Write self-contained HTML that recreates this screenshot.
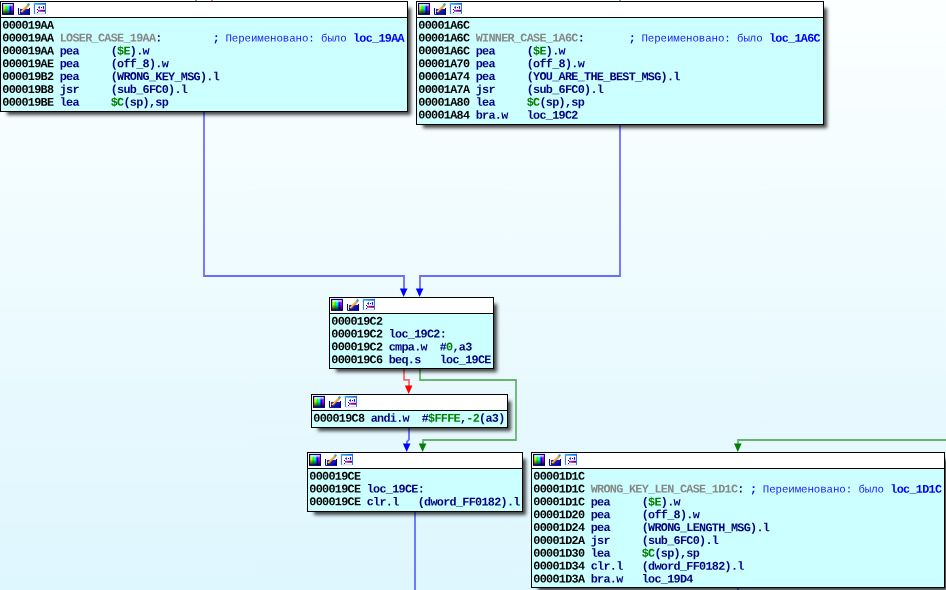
<!DOCTYPE html>
<html lang="ru"><head><meta charset="utf-8"><title>IDA graph view</title>
<style>
html,body{margin:0;padding:0}
body{width:946px;height:590px;overflow:hidden;position:relative;background:linear-gradient(#fcffff 0px,#def6fe 590px);font-family:"Liberation Mono",monospace;font-weight:bold;font-size:11.8px;letter-spacing:-0.706px}
.blk{position:absolute;box-sizing:border-box;border:1px solid #000;background:#ccffff;box-shadow:5px 5px 3.4px -2.2px rgba(0,0,0,.72);will-change:transform}
.tt{position:absolute;left:0;top:0;right:0;height:15px;background:#fff;border-bottom:1px solid #000;overflow:hidden}
.ic{position:absolute;left:0;top:0}
.ln{position:absolute;left:-1px;top:-1px;height:12.85px;line-height:12.85px;white-space:pre;transform-origin:50% 50%}
.a{color:#000}.g{color:#888}.n{color:#000080}.k{color:#008000}.b{color:#0000ff}
.c{color:#1a1aff;font-weight:normal;font-size:10.8px;letter-spacing:-0.106px}
svg.edges{position:absolute;left:0;top:0}
</style></head>
<body>
<svg width="0" height="0" style="position:absolute"><defs>
<linearGradient id="hue" x1="0" x2="1" y1="0" y2="0"><stop offset="0" stop-color="#ffd0a0"/><stop offset=".12" stop-color="#ffff00"/><stop offset=".34" stop-color="#00ff00"/><stop offset=".52" stop-color="#00ffff"/><stop offset=".72" stop-color="#0000ff"/><stop offset=".9" stop-color="#ff00ff"/><stop offset="1" stop-color="#ff0080"/></linearGradient>
<linearGradient id="wh" x1="0" x2="0" y1="0" y2="1"><stop offset="0" stop-color="#fff" stop-opacity="1"/><stop offset=".12" stop-color="#fff" stop-opacity=".85"/><stop offset=".32" stop-color="#fff" stop-opacity="0"/></linearGradient>
<linearGradient id="dk" x1="0" x2="0" y1="0" y2="1"><stop offset=".45" stop-color="#000" stop-opacity="0"/><stop offset="1" stop-color="#000" stop-opacity=".9"/></linearGradient>
<linearGradient id="bl" x1="0" x2="1" y1="0" y2="1"><stop offset="0" stop-color="#2038d8"/><stop offset="1" stop-color="#000090"/></linearGradient>
<linearGradient id="tb" x1="0" x2="1" y1="0" y2="0"><stop offset="0" stop-color="#30b4ff"/><stop offset="1" stop-color="#1f5ee0"/></linearGradient>
<linearGradient id="mg" x1="0" x2="1" y1="0" y2="0"><stop offset="0" stop-color="#d000a8"/><stop offset="1" stop-color="#5a0058"/></linearGradient>
</defs></svg>
<svg class="edges" width="946" height="590" viewBox="0 0 946 590"><path d="M204 111V276H404V289" fill="none" stroke="#0000ff" stroke-opacity=".56" stroke-width="1.8"/>
<path d="M399.85 288.40h7.60L403.65 297.00z" fill="#0000ff"/>
<path d="M620 124V276H420V289" fill="none" stroke="#0000ff" stroke-opacity=".56" stroke-width="1.8"/>
<path d="M415.80 288.40h7.60L419.60 297.00z" fill="#0000ff"/>
<path d="M404 369V379.9H409V386" fill="none" stroke="#ff0000" stroke-opacity=".56" stroke-width="1.8"/>
<path d="M404.85 385.40h7.60L408.65 394.00z" fill="#ff0000"/>
<path d="M420 369V380H516V440H423V444" fill="none" stroke="#008000" stroke-opacity=".56" stroke-width="1.8"/>
<path d="M418.80 443.40h7.60L422.60 452.00z" fill="#008000"/>
<path d="M409 428V439.6L407 441.6V444" fill="none" stroke="#0000ff" stroke-opacity=".56" stroke-width="1.8"/>
<path d="M402.90 443.40h7.60L406.70 452.00z" fill="#0000ff"/>
<path d="M415 512V590" fill="none" stroke="#0000ff" stroke-opacity=".56" stroke-width="1.8"/>
<path d="M946 440H738V444" fill="none" stroke="#008000" stroke-opacity=".56" stroke-width="1.8"/>
<path d="M734.00 443.40h7.60L737.80 452.00z" fill="#008000"/>
<path d="M738 588V590" fill="none" stroke="#0000ff" stroke-opacity=".56" stroke-width="1.8"/>
<path d="M196 0V1" fill="none" stroke="#008000" stroke-opacity=".56" stroke-width="1.8"/>
<path d="M212 0V1" fill="none" stroke="#ff0000" stroke-opacity=".56" stroke-width="1.8"/>
<path d="M620 0V1" fill="none" stroke="#008000" stroke-opacity=".56" stroke-width="1.8"/></svg>
<div class="blk" style="left:0px;top:1px;width:408px;height:111px"><div class="tt"><svg class="ic" width="48" height="15" viewBox="0 0 48 15">
<rect x="1.6" y="1.5" width="10.8" height="10.8" fill="url(#hue)"/>
<rect x="1.6" y="1.5" width="10.8" height="10.8" fill="url(#wh)"/>
<rect x="1.6" y="1.5" width="10.8" height="10.8" fill="url(#dk)" stroke="#000080" stroke-width="1.2"/>
<rect x="19" y="6.9" width="9.2" height="5.2" fill="url(#bl)"/>
<path d="M17.5 6V12.4H28.5V6" fill="none" stroke="#0000a0" stroke-width="1"/>
<path d="M28.5 6V12.9" stroke="#000060" stroke-width="1"/>
<path d="M20 10.3L27.4 2.6" stroke="#ff9400" stroke-width="1.8"/>
<path d="M19.9 9.9L26.9 2.6" stroke="#fff6c8" stroke-width=".9" stroke-dasharray="1.1 .45"/>
<path d="M21 10.7L27.8 3.7" stroke="#e8701a" stroke-width=".7"/>
<path d="M19.1 11.2l.5-1.6 1.2 1.1z" fill="#000"/>
<path d="M26.6 3.4L28.3 1.6" stroke="#38a6cc" stroke-width="2.2"/>
<rect x="33.4" y="1.4" width="11.1" height="10.5" fill="#fff"/>
<path d="M33.9 11.9H44" stroke="#c4d2f2" stroke-width="1"/>
<path d="M33.4 .9V11.9M44.5 .9V11.9" stroke="#2f70e2" stroke-width="1"/>
<rect x="32.9" y=".9" width="12.1" height="1.8" fill="url(#tb)"/>
<rect x="38.3" y="7.8" width="5.7" height="1.9" fill="url(#mg)"/>
<path d="M37 5.5l1.9-1.5v3z" fill="#0000f0"/>
<rect x="40" y="5" width="1" height="1.1" fill="#0000f0"/>
<rect x="41.9" y="4.1" width="1.2" height="2.7" fill="#0000f0"/>
<rect x="36" y="7" width="1" height="1" fill="#0000f0"/>
<rect x="37.1" y="8.1" width="1.1" height="1.5" fill="#0000f0"/>
<rect x="36" y="10" width="1" height="1" fill="#0000f0"/>
</svg></div><div class="ln" style="transform:translate(2.35px,18.70px) rotate(.03deg)"><span class="a">000019AA</span></div>
<div class="ln" style="transform:translate(2.35px,31.55px) rotate(.03deg)"><span class="a">000019AA </span><span class="g">LOSER_CASE_19AA</span><span class="n">:</span><span class="n">        </span><span class="b">;</span><span class="c"> Переименовано: было </span><span class="b">loc_19AA</span></div>
<div class="ln" style="transform:translate(2.35px,44.40px) rotate(.03deg)"><span class="a">000019AA </span><span class="n">pea     </span><span class="n">(</span><span class="k">$E</span><span class="n">).w</span></div>
<div class="ln" style="transform:translate(2.35px,57.25px) rotate(.03deg)"><span class="a">000019AE </span><span class="n">pea     </span><span class="n">(off_8).w</span></div>
<div class="ln" style="transform:translate(2.35px,70.10px) rotate(.03deg)"><span class="a">000019B2 </span><span class="n">pea     </span><span class="n">(WRONG_KEY_MSG).l</span></div>
<div class="ln" style="transform:translate(2.35px,82.95px) rotate(.03deg)"><span class="a">000019B8 </span><span class="n">jsr     </span><span class="n">(sub_6FC0).l</span></div>
<div class="ln" style="transform:translate(2.35px,95.80px) rotate(.03deg)"><span class="a">000019BE </span><span class="n">lea     </span><span class="k">$C</span><span class="n">(sp),sp</span></div></div>
<div class="blk" style="left:416px;top:1px;width:408px;height:124px"><div class="tt"><svg class="ic" width="48" height="15" viewBox="0 0 48 15">
<rect x="1.6" y="1.5" width="10.8" height="10.8" fill="url(#hue)"/>
<rect x="1.6" y="1.5" width="10.8" height="10.8" fill="url(#wh)"/>
<rect x="1.6" y="1.5" width="10.8" height="10.8" fill="url(#dk)" stroke="#000080" stroke-width="1.2"/>
<rect x="19" y="6.9" width="9.2" height="5.2" fill="url(#bl)"/>
<path d="M17.5 6V12.4H28.5V6" fill="none" stroke="#0000a0" stroke-width="1"/>
<path d="M28.5 6V12.9" stroke="#000060" stroke-width="1"/>
<path d="M20 10.3L27.4 2.6" stroke="#ff9400" stroke-width="1.8"/>
<path d="M19.9 9.9L26.9 2.6" stroke="#fff6c8" stroke-width=".9" stroke-dasharray="1.1 .45"/>
<path d="M21 10.7L27.8 3.7" stroke="#e8701a" stroke-width=".7"/>
<path d="M19.1 11.2l.5-1.6 1.2 1.1z" fill="#000"/>
<path d="M26.6 3.4L28.3 1.6" stroke="#38a6cc" stroke-width="2.2"/>
<rect x="33.4" y="1.4" width="11.1" height="10.5" fill="#fff"/>
<path d="M33.9 11.9H44" stroke="#c4d2f2" stroke-width="1"/>
<path d="M33.4 .9V11.9M44.5 .9V11.9" stroke="#2f70e2" stroke-width="1"/>
<rect x="32.9" y=".9" width="12.1" height="1.8" fill="url(#tb)"/>
<rect x="38.3" y="7.8" width="5.7" height="1.9" fill="url(#mg)"/>
<path d="M37 5.5l1.9-1.5v3z" fill="#0000f0"/>
<rect x="40" y="5" width="1" height="1.1" fill="#0000f0"/>
<rect x="41.9" y="4.1" width="1.2" height="2.7" fill="#0000f0"/>
<rect x="36" y="7" width="1" height="1" fill="#0000f0"/>
<rect x="37.1" y="8.1" width="1.1" height="1.5" fill="#0000f0"/>
<rect x="36" y="10" width="1" height="1" fill="#0000f0"/>
</svg></div><div class="ln" style="transform:translate(2.35px,18.70px) rotate(.03deg)"><span class="a">00001A6C</span></div>
<div class="ln" style="transform:translate(2.35px,31.55px) rotate(.03deg)"><span class="a">00001A6C </span><span class="g">WINNER_CASE_1A6C</span><span class="n">:</span><span class="n">       </span><span class="b">;</span><span class="c"> Переименовано: было </span><span class="b">loc_1A6C</span></div>
<div class="ln" style="transform:translate(2.35px,44.40px) rotate(.03deg)"><span class="a">00001A6C </span><span class="n">pea     </span><span class="n">(</span><span class="k">$E</span><span class="n">).w</span></div>
<div class="ln" style="transform:translate(2.35px,57.25px) rotate(.03deg)"><span class="a">00001A70 </span><span class="n">pea     </span><span class="n">(off_8).w</span></div>
<div class="ln" style="transform:translate(2.35px,70.10px) rotate(.03deg)"><span class="a">00001A74 </span><span class="n">pea     </span><span class="n">(YOU_ARE_THE_BEST_MSG).l</span></div>
<div class="ln" style="transform:translate(2.35px,82.95px) rotate(.03deg)"><span class="a">00001A7A </span><span class="n">jsr     </span><span class="n">(sub_6FC0).l</span></div>
<div class="ln" style="transform:translate(2.35px,95.80px) rotate(.03deg)"><span class="a">00001A80 </span><span class="n">lea     </span><span class="k">$C</span><span class="n">(sp),sp</span></div>
<div class="ln" style="transform:translate(2.35px,108.65px) rotate(.03deg)"><span class="a">00001A84 </span><span class="n">bra.w   </span><span class="n">loc_19C2</span></div></div>
<div class="blk" style="left:329px;top:297px;width:165px;height:72px"><div class="tt"><svg class="ic" width="48" height="15" viewBox="0 0 48 15">
<rect x="1.6" y="1.5" width="10.8" height="10.8" fill="url(#hue)"/>
<rect x="1.6" y="1.5" width="10.8" height="10.8" fill="url(#wh)"/>
<rect x="1.6" y="1.5" width="10.8" height="10.8" fill="url(#dk)" stroke="#000080" stroke-width="1.2"/>
<rect x="19" y="6.9" width="9.2" height="5.2" fill="url(#bl)"/>
<path d="M17.5 6V12.4H28.5V6" fill="none" stroke="#0000a0" stroke-width="1"/>
<path d="M28.5 6V12.9" stroke="#000060" stroke-width="1"/>
<path d="M20 10.3L27.4 2.6" stroke="#ff9400" stroke-width="1.8"/>
<path d="M19.9 9.9L26.9 2.6" stroke="#fff6c8" stroke-width=".9" stroke-dasharray="1.1 .45"/>
<path d="M21 10.7L27.8 3.7" stroke="#e8701a" stroke-width=".7"/>
<path d="M19.1 11.2l.5-1.6 1.2 1.1z" fill="#000"/>
<path d="M26.6 3.4L28.3 1.6" stroke="#38a6cc" stroke-width="2.2"/>
<rect x="33.4" y="1.4" width="11.1" height="10.5" fill="#fff"/>
<path d="M33.9 11.9H44" stroke="#c4d2f2" stroke-width="1"/>
<path d="M33.4 .9V11.9M44.5 .9V11.9" stroke="#2f70e2" stroke-width="1"/>
<rect x="32.9" y=".9" width="12.1" height="1.8" fill="url(#tb)"/>
<rect x="38.3" y="7.8" width="5.7" height="1.9" fill="url(#mg)"/>
<path d="M37 5.5l1.9-1.5v3z" fill="#0000f0"/>
<rect x="40" y="5" width="1" height="1.1" fill="#0000f0"/>
<rect x="41.9" y="4.1" width="1.2" height="2.7" fill="#0000f0"/>
<rect x="36" y="7" width="1" height="1" fill="#0000f0"/>
<rect x="37.1" y="8.1" width="1.1" height="1.5" fill="#0000f0"/>
<rect x="36" y="10" width="1" height="1" fill="#0000f0"/>
</svg></div><div class="ln" style="transform:translate(2.35px,18.70px) rotate(.03deg)"><span class="a">000019C2</span></div>
<div class="ln" style="transform:translate(2.35px,31.55px) rotate(.03deg)"><span class="a">000019C2 </span><span class="n">loc_19C2:</span></div>
<div class="ln" style="transform:translate(2.35px,44.40px) rotate(.03deg)"><span class="a">000019C2 </span><span class="n">cmpa.w  </span><span class="n">#</span><span class="k">0</span><span class="n">,a3</span></div>
<div class="ln" style="transform:translate(2.35px,57.25px) rotate(.03deg)"><span class="a">000019C6 </span><span class="n">beq.s   </span><span class="n">loc_19CE</span></div></div>
<div class="blk" style="left:311px;top:394px;width:197px;height:34px"><div class="tt"><svg class="ic" width="48" height="15" viewBox="0 0 48 15">
<rect x="1.6" y="1.5" width="10.8" height="10.8" fill="url(#hue)"/>
<rect x="1.6" y="1.5" width="10.8" height="10.8" fill="url(#wh)"/>
<rect x="1.6" y="1.5" width="10.8" height="10.8" fill="url(#dk)" stroke="#000080" stroke-width="1.2"/>
<rect x="19" y="6.9" width="9.2" height="5.2" fill="url(#bl)"/>
<path d="M17.5 6V12.4H28.5V6" fill="none" stroke="#0000a0" stroke-width="1"/>
<path d="M28.5 6V12.9" stroke="#000060" stroke-width="1"/>
<path d="M20 10.3L27.4 2.6" stroke="#ff9400" stroke-width="1.8"/>
<path d="M19.9 9.9L26.9 2.6" stroke="#fff6c8" stroke-width=".9" stroke-dasharray="1.1 .45"/>
<path d="M21 10.7L27.8 3.7" stroke="#e8701a" stroke-width=".7"/>
<path d="M19.1 11.2l.5-1.6 1.2 1.1z" fill="#000"/>
<path d="M26.6 3.4L28.3 1.6" stroke="#38a6cc" stroke-width="2.2"/>
<rect x="33.4" y="1.4" width="11.1" height="10.5" fill="#fff"/>
<path d="M33.9 11.9H44" stroke="#c4d2f2" stroke-width="1"/>
<path d="M33.4 .9V11.9M44.5 .9V11.9" stroke="#2f70e2" stroke-width="1"/>
<rect x="32.9" y=".9" width="12.1" height="1.8" fill="url(#tb)"/>
<rect x="38.3" y="7.8" width="5.7" height="1.9" fill="url(#mg)"/>
<path d="M37 5.5l1.9-1.5v3z" fill="#0000f0"/>
<rect x="40" y="5" width="1" height="1.1" fill="#0000f0"/>
<rect x="41.9" y="4.1" width="1.2" height="2.7" fill="#0000f0"/>
<rect x="36" y="7" width="1" height="1" fill="#0000f0"/>
<rect x="37.1" y="8.1" width="1.1" height="1.5" fill="#0000f0"/>
<rect x="36" y="10" width="1" height="1" fill="#0000f0"/>
</svg></div><div class="ln" style="transform:translate(2.35px,18.70px) rotate(.03deg)"><span class="a">000019C8 </span><span class="n">andi.w  </span><span class="n">#</span><span class="k">$FFFE</span><span class="n">,</span><span class="k">-2</span><span class="n">(a3)</span></div></div>
<div class="blk" style="left:307px;top:452px;width:216px;height:60px"><div class="tt"><svg class="ic" width="48" height="15" viewBox="0 0 48 15">
<rect x="1.6" y="1.5" width="10.8" height="10.8" fill="url(#hue)"/>
<rect x="1.6" y="1.5" width="10.8" height="10.8" fill="url(#wh)"/>
<rect x="1.6" y="1.5" width="10.8" height="10.8" fill="url(#dk)" stroke="#000080" stroke-width="1.2"/>
<rect x="19" y="6.9" width="9.2" height="5.2" fill="url(#bl)"/>
<path d="M17.5 6V12.4H28.5V6" fill="none" stroke="#0000a0" stroke-width="1"/>
<path d="M28.5 6V12.9" stroke="#000060" stroke-width="1"/>
<path d="M20 10.3L27.4 2.6" stroke="#ff9400" stroke-width="1.8"/>
<path d="M19.9 9.9L26.9 2.6" stroke="#fff6c8" stroke-width=".9" stroke-dasharray="1.1 .45"/>
<path d="M21 10.7L27.8 3.7" stroke="#e8701a" stroke-width=".7"/>
<path d="M19.1 11.2l.5-1.6 1.2 1.1z" fill="#000"/>
<path d="M26.6 3.4L28.3 1.6" stroke="#38a6cc" stroke-width="2.2"/>
<rect x="33.4" y="1.4" width="11.1" height="10.5" fill="#fff"/>
<path d="M33.9 11.9H44" stroke="#c4d2f2" stroke-width="1"/>
<path d="M33.4 .9V11.9M44.5 .9V11.9" stroke="#2f70e2" stroke-width="1"/>
<rect x="32.9" y=".9" width="12.1" height="1.8" fill="url(#tb)"/>
<rect x="38.3" y="7.8" width="5.7" height="1.9" fill="url(#mg)"/>
<path d="M37 5.5l1.9-1.5v3z" fill="#0000f0"/>
<rect x="40" y="5" width="1" height="1.1" fill="#0000f0"/>
<rect x="41.9" y="4.1" width="1.2" height="2.7" fill="#0000f0"/>
<rect x="36" y="7" width="1" height="1" fill="#0000f0"/>
<rect x="37.1" y="8.1" width="1.1" height="1.5" fill="#0000f0"/>
<rect x="36" y="10" width="1" height="1" fill="#0000f0"/>
</svg></div><div class="ln" style="transform:translate(2.35px,18.70px) rotate(.03deg)"><span class="a">000019CE</span></div>
<div class="ln" style="transform:translate(2.35px,31.55px) rotate(.03deg)"><span class="a">000019CE </span><span class="n">loc_19CE:</span></div>
<div class="ln" style="transform:translate(2.35px,44.40px) rotate(.03deg)"><span class="a">000019CE </span><span class="n">clr.l   </span><span class="n">(dword_FF0182).l</span></div></div>
<div class="blk" style="left:531px;top:452px;width:414px;height:136px"><div class="tt"><svg class="ic" width="48" height="15" viewBox="0 0 48 15">
<rect x="1.6" y="1.5" width="10.8" height="10.8" fill="url(#hue)"/>
<rect x="1.6" y="1.5" width="10.8" height="10.8" fill="url(#wh)"/>
<rect x="1.6" y="1.5" width="10.8" height="10.8" fill="url(#dk)" stroke="#000080" stroke-width="1.2"/>
<rect x="19" y="6.9" width="9.2" height="5.2" fill="url(#bl)"/>
<path d="M17.5 6V12.4H28.5V6" fill="none" stroke="#0000a0" stroke-width="1"/>
<path d="M28.5 6V12.9" stroke="#000060" stroke-width="1"/>
<path d="M20 10.3L27.4 2.6" stroke="#ff9400" stroke-width="1.8"/>
<path d="M19.9 9.9L26.9 2.6" stroke="#fff6c8" stroke-width=".9" stroke-dasharray="1.1 .45"/>
<path d="M21 10.7L27.8 3.7" stroke="#e8701a" stroke-width=".7"/>
<path d="M19.1 11.2l.5-1.6 1.2 1.1z" fill="#000"/>
<path d="M26.6 3.4L28.3 1.6" stroke="#38a6cc" stroke-width="2.2"/>
<rect x="33.4" y="1.4" width="11.1" height="10.5" fill="#fff"/>
<path d="M33.9 11.9H44" stroke="#c4d2f2" stroke-width="1"/>
<path d="M33.4 .9V11.9M44.5 .9V11.9" stroke="#2f70e2" stroke-width="1"/>
<rect x="32.9" y=".9" width="12.1" height="1.8" fill="url(#tb)"/>
<rect x="38.3" y="7.8" width="5.7" height="1.9" fill="url(#mg)"/>
<path d="M37 5.5l1.9-1.5v3z" fill="#0000f0"/>
<rect x="40" y="5" width="1" height="1.1" fill="#0000f0"/>
<rect x="41.9" y="4.1" width="1.2" height="2.7" fill="#0000f0"/>
<rect x="36" y="7" width="1" height="1" fill="#0000f0"/>
<rect x="37.1" y="8.1" width="1.1" height="1.5" fill="#0000f0"/>
<rect x="36" y="10" width="1" height="1" fill="#0000f0"/>
</svg></div><div class="ln" style="transform:translate(2.35px,18.70px) rotate(.03deg)"><span class="a">00001D1C</span></div>
<div class="ln" style="transform:translate(2.35px,31.55px) rotate(.03deg)"><span class="a">00001D1C </span><span class="g">WRONG_KEY_LEN_CASE_1D1C</span><span class="n">:</span><span class="n"> </span><span class="b">;</span><span class="c"> Переименовано: было </span><span class="b">loc_1D1C</span></div>
<div class="ln" style="transform:translate(2.35px,44.40px) rotate(.03deg)"><span class="a">00001D1C </span><span class="n">pea     </span><span class="n">(</span><span class="k">$E</span><span class="n">).w</span></div>
<div class="ln" style="transform:translate(2.35px,57.25px) rotate(.03deg)"><span class="a">00001D20 </span><span class="n">pea     </span><span class="n">(off_8).w</span></div>
<div class="ln" style="transform:translate(2.35px,70.10px) rotate(.03deg)"><span class="a">00001D24 </span><span class="n">pea     </span><span class="n">(WRONG_LENGTH_MSG).l</span></div>
<div class="ln" style="transform:translate(2.35px,82.95px) rotate(.03deg)"><span class="a">00001D2A </span><span class="n">jsr     </span><span class="n">(sub_6FC0).l</span></div>
<div class="ln" style="transform:translate(2.35px,95.80px) rotate(.03deg)"><span class="a">00001D30 </span><span class="n">lea     </span><span class="k">$C</span><span class="n">(sp),sp</span></div>
<div class="ln" style="transform:translate(2.35px,108.65px) rotate(.03deg)"><span class="a">00001D34 </span><span class="n">clr.l   </span><span class="n">(dword_FF0182).l</span></div>
<div class="ln" style="transform:translate(2.35px,121.50px) rotate(.03deg)"><span class="a">00001D3A </span><span class="n">bra.w   </span><span class="n">loc_19D4</span></div></div>
</body></html>
